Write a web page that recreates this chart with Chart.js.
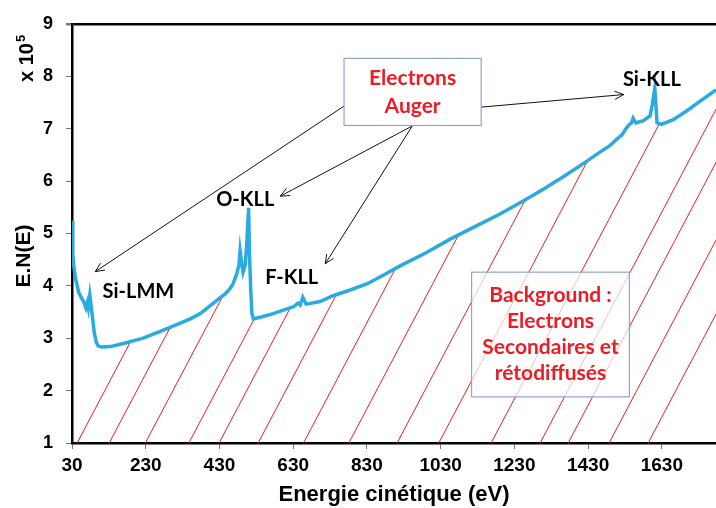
<!DOCTYPE html>
<html>
<head>
<meta charset="utf-8">
<script src="https://cdn.jsdelivr.net/npm/chart.js@4.4.0/dist/chart.umd.min.js"></script>
<style>
  body { margin: 0; background: #fff; }
  canvas { display: block; }
</style>
</head>
<body>
<canvas id="myChart" width="716" height="508"></canvas>
<script>
// Spectre : energie cinetique (eV) et E.N(E) en unites de 10^5
const energies = [30, 31.4, 32.7, 34.9, 39, 48, 57, 61.4, 67.4, 71.5, 74.2, 78.3, 82.3, 86.4, 90.5, 95.9,
    101.3, 111, 134, 169, 223, 283, 351, 378, 423, 446, 459, 467, 477, 483, 486, 490, 494, 500, 504,
    508, 509, 511.5, 515, 518, 522, 541, 576, 609, 631, 643, 649, 656, 665, 703, 738, 785, 831, 874,
    920, 988, 1056, 1123, 1191, 1254, 1313, 1367, 1427, 1462, 1490, 1508, 1522, 1533, 1542, 1548,
    1552, 1560, 1580, 1598, 1604, 1611, 1614, 1617, 1629, 1661, 1700, 1733, 1777];
const valeurs = [5.24, 4.95, 4.62, 4.38, 4.16, 3.88, 3.75, 3.70, 3.58, 3.68, 3.58, 3.82, 3.60, 3.35, 3.10, 2.92,
    2.85, 2.83, 2.84, 2.90, 3.00, 3.17, 3.37, 3.47, 3.72, 3.85, 3.95, 4.04, 4.23, 4.40, 4.67, 4.45, 4.26, 4.40, 4.80,
    5.35, 5.49, 4.60, 3.90, 3.47, 3.37, 3.40, 3.47, 3.55, 3.60, 3.67, 3.63, 3.78, 3.65, 3.70, 3.81, 3.92, 4.04, 4.20,
    4.38, 4.62, 4.89, 5.13, 5.37, 5.62, 5.86, 6.10, 6.38, 6.55, 6.68, 6.80, 6.88, 7.00, 7.08, 7.11,
    7.20, 7.11, 7.15, 7.24, 7.45, 7.77, 7.45, 7.11, 7.08, 7.17, 7.35, 7.52, 7.74];

const xTicks = [30, 230, 430, 630, 830, 1030, 1230, 1430, 1630];
const yTicks = [1, 2, 3, 4, 5, 6, 7, 8, 9];

// hachures rouges (fond) : depart sur l'axe des x
const hachuresDebut = [44, 131, 229, 347, 429, 535, 658, 781, 912, 1025, 1167, 1300, 1376, 1487, 1593];
const penteHachures = 0.01335; // unites par eV

// etiquettes des pics
const picsTexte = ["Si-LMM", "O-KLL", "F-KLL", "Si-KLL"];
const picsX = [210, 500, 626, 1603];
const picsY = [3.89, 5.64, 4.16, 7.94];

// fleches : depart -> arrivee
const flechesDepart = [[768, 7.43], [953, 7.05], [953, 7.05], [1140, 7.41]];
const flechesArrivee = [[93, 4.27], [595, 5.71], [717, 4.42], [1527, 7.65]];

const augerTexte = ["Electrons", "Auger"];
const augerCadre = [768, 1140, 8.34, 7.06];
const fondTexte = ["Background :", "Electrons", "Secondaires et", "rétodiffusés"];
const fondCadre = [1114, 1542, 4.26, 1.88];

function niveau(e) {
    for (let i = 0; i < energies.length - 1; i++) {
        if (e >= energies[i] && e <= energies[i + 1]) {
            const t = (e - energies[i]) / (energies[i + 1] - energies[i]);
            return valeurs[i] + t * (valeurs[i + 1] - valeurs[i]);
        }
    }
    return valeurs[valeurs.length - 1];
}

function finHachure(e0) {
    const ligne = e => 1 + penteHachures * (e - e0);
    for (let i = 0; i < energies.length - 1; i++) {
        const e2 = energies[i + 1];
        if (e2 <= e0) continue;
        const a = Math.max(energies[i], e0);
        const fa = niveau(a) - ligne(a);
        const fb = valeurs[i + 1] - ligne(e2);
        if (fa > 0 && fb <= 0) {
            const e = a + (fa / (fa - fb)) * (e2 - a);
            return { x: e, y: ligne(e) };
        }
    }
    const e = 2100;
    return { x: e, y: ligne(e) };
}

const courbe = energies.map((e, i) => ({ x: e, y: valeurs[i] }));

const datasets = [{
    label: 'E.N(E)',
    data: courbe,
    borderColor: 'rgb(41, 171, 226)',
    borderWidth: 3.5,
    pointRadius: 0,
    tension: 0,
    fill: false,
}];

hachuresDebut.forEach(e0 => {
    datasets.push({
        label: 'fond',
        data: [{ x: e0, y: 1 }, finHachure(e0)],
        borderColor: 'rgb(230, 30, 38)',
        borderWidth: 1,
        pointRadius: 0,
        fill: false,
    });
});

function fleche(ctx, x1, y1, x2, y2) {
    const ang = Math.atan2(y2 - y1, x2 - x1);
    const L = 10, a = 0.42;
    ctx.beginPath();
    ctx.moveTo(x1, y1);
    ctx.lineTo(x2, y2);
    ctx.moveTo(x2 - L * Math.cos(ang - a), y2 - L * Math.sin(ang - a));
    ctx.lineTo(x2, y2);
    ctx.lineTo(x2 - L * Math.cos(ang + a), y2 - L * Math.sin(ang + a));
    ctx.stroke();
}

function cadre(ctx, x, y, c, textes, pas, couleurFond) {
    const x1 = x.getPixelForValue(c[0]), x2 = x.getPixelForValue(c[1]);
    const y1 = y.getPixelForValue(c[2]), y2 = y.getPixelForValue(c[3]);
    ctx.fillStyle = couleurFond;
    ctx.fillRect(x1, y1, x2 - x1, y2 - y1);
    ctx.strokeStyle = '#8fa5cf';
    ctx.lineWidth = 1.2;
    ctx.strokeRect(x1, y1, x2 - x1, y2 - y1);
    ctx.fillStyle = 'rgb(237, 28, 36)';
    ctx.font = 'bold 21px Lato';
    ctx.textAlign = 'center';
    ctx.textBaseline = 'middle';
    const cx = (x1 + x2) / 2, cy = (y1 + y2) / 2;
    const n = textes.length;
    textes.forEach((t, i) => ctx.fillText(t, cx, cy + (i - (n - 1) / 2) * pas));
}

const annotations = {
    id: 'annotations',
    afterDatasetsDraw(chart) {
        const { ctx, scales: { x, y } } = chart;
        ctx.save();
        // fleches
        ctx.strokeStyle = '#111';
        ctx.lineWidth = 1;
        flechesDepart.forEach((d, i) => {
            const f = flechesArrivee[i];
            fleche(ctx, x.getPixelForValue(d[0]), y.getPixelForValue(d[1]),
                x.getPixelForValue(f[0]), y.getPixelForValue(f[1]));
        });
        cadre(ctx, x, y, augerCadre, augerTexte, 28, '#fff');
        cadre(ctx, x, y, fondCadre, fondTexte, 26, 'rgba(255,255,255,0.72)');
        // noms des pics
        ctx.fillStyle = '#000';
        ctx.font = 'bold 20px Lato';
        ctx.textAlign = 'center';
        ctx.textBaseline = 'middle';
        picsTexte.forEach((t, i) => {
            ctx.fillText(t, x.getPixelForValue(picsX[i]), y.getPixelForValue(picsY[i]));
        });
        // titre de l'axe y
        ctx.font = 'bold 21px "Liberation Sans"';
        ctx.translate(30, 256);
        ctx.rotate(-Math.PI / 2);
        ctx.textBaseline = 'alphabetic';
        ctx.fillText('E.N(E)', 0, 0);
        ctx.restore();

        ctx.save();
        ctx.fillStyle = '#000';
        ctx.translate(33, 82);
        ctx.rotate(-Math.PI / 2);
        ctx.textAlign = 'left';
        ctx.textBaseline = 'alphabetic';
        ctx.font = 'bold 20px "Liberation Sans"';
        ctx.fillText('x 10', 0, 0);
        const w = ctx.measureText('x 10').width;
        ctx.font = 'bold 13px "Liberation Sans"';
        ctx.fillText('5', w + 1, -8);
        ctx.restore();
    }
};

new Chart(document.getElementById("myChart").getContext("2d"), {
    type: 'line',
    data: { datasets: datasets },
    options: {
        responsive: false,
        animation: false,
        devicePixelRatio: 1,
        layout: { padding: { top: 22, right: 0, left: 0, bottom: 0 } },
        plugins: { legend: { display: false }, tooltip: { enabled: false } },
        scales: {
            x: {
                type: 'linear',
                min: 30,
                max: 1777,
                afterFit: s => { s.height = 65; },
                afterBuildTicks: s => { s.ticks = xTicks.map(v => ({ value: v })); },
                border: { color: '#000', width: 2.5 },
                grid: { drawOnChartArea: false, tickLength: 6, tickColor: '#777' },
                ticks: {
                    color: '#000',
                    padding: 5,
                    maxRotation: 0,
                    autoSkip: false,
                    callback: v => String(v),
                    font: { family: 'Liberation Sans', weight: 'bold', size: 19 },
                },
                title: {
                    display: true,
                    text: 'Energie cinétique (eV)',
                    color: '#000',
                    font: { family: 'Liberation Sans', weight: 'bold', size: 22 },
                    padding: { top: 0, bottom: 0 },
                }
            },
            y: {
                min: 1,
                max: 9,
                afterFit: s => { s.width = 72; },
                afterBuildTicks: s => { s.ticks = yTicks.map(v => ({ value: v })); },
                border: { color: '#000', width: 2.5 },
                grid: {
                    drawOnChartArea: true,
                    color: c => (c.tick && c.tick.value === 9 ? '#000' : 'rgba(0,0,0,0)'),
                    lineWidth: c => (c.tick && c.tick.value === 9 ? 2.5 : 1),
                    tickLength: 6,
                    tickColor: '#777',
                },
                ticks: {
                    color: '#000',
                    padding: 13,
                    callback: v => String(v),
                    font: { family: 'Liberation Sans', weight: 'bold', size: 18 },
                }
            }
        }
    },
    plugins: [annotations]
});
</script>
</body>
</html>
